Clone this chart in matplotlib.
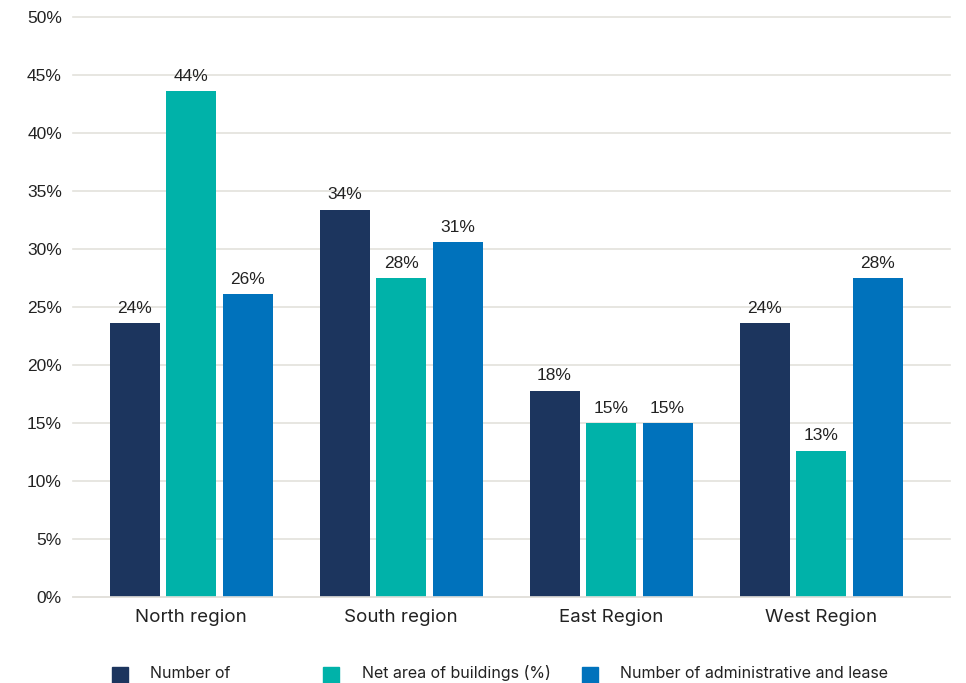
import matplotlib
matplotlib.use("Agg")
import matplotlib.pyplot as plt
from matplotlib.patches import Rectangle
import numpy as np

categories = ["North region", "South region", "East Region", "West Region"]
series_names = ["Number of", "Net area of buildings (%)", "Number of administrative and lease"]
number_of = [23.6, 33.4, 17.8, 23.6]
net_area = [43.6, 27.5, 15.0, 12.6]
admin_lease = [26.1, 30.6, 15.0, 27.5]
labels_1 = ["24%", "34%", "18%", "24%"]
labels_2 = ["44%", "28%", "15%", "13%"]
labels_3 = ["26%", "31%", "15%", "28%"]
yticks = [0, 5, 10, 15, 20, 25, 30, 35, 40, 45, 50]

colors = ["#1C355E", "#00B2A9", "#0072BC"]
plt.rcParams['font.family'] = ['Inter', 'DejaVu Sans']
num_font = ['Liberation Sans', 'DejaVu Sans']

W, H = 966, 683
fig = plt.figure(figsize=(W / 100, H / 100), dpi=100)
ax = fig.add_axes([73 / W, 1 - 597 / H, (950 - 73) / W, (597 - 17) / H])

x = np.arange(len(categories))
width = 0.238
step = 0.269
series = [number_of, net_area, admin_lease]
labels = [labels_1, labels_2, labels_3]
for i, (vals, lab, col) in enumerate(zip(series, labels, colors)):
    pos = x + (i - 1) * step
    bars = ax.bar(pos, vals, width=width, color=col, zorder=3)
    for b, t in zip(bars, lab):
        ax.annotate(t, (b.get_x() + b.get_width() / 2, b.get_height()),
                    xytext=(0, 7.5), textcoords="offset points",
                    ha="center", va="baseline", fontsize=12.5, color="#222222",
                    family=num_font)

ax.set_xlim(-0.562, 3.614)
ax.set_ylim(0, 50)
ax.set_yticks(yticks)
ax.set_yticklabels([f"{v}%" for v in yticks], fontsize=12.5, color="#222222",
                   family=num_font)
ax.set_xticks(x)
ax.set_xticklabels(categories, fontsize=13.5, color="#222222")
ax.tick_params(axis="y", length=0, pad=8)
ax.tick_params(axis="x", length=0, pad=9)
ax.grid(axis="y", color="#E3E1DC", linewidth=1.2, zorder=0)
for gl in ax.get_ygridlines():
    gl.set_clip_on(False)
for s in ["top", "right", "left"]:
    ax.spines[s].set_visible(False)
ax.spines["bottom"].set_color("#E3E1DC")
ax.spines["bottom"].set_linewidth(1.2)
ax.spines["bottom"].set_zorder(4)

# legend
leg_sq = [112, 323, 582]
leg_tx = [150, 362, 620]
for sx, tx, col, name in zip(leg_sq, leg_tx, colors, series_names):
    fig.add_artist(Rectangle((sx / W, 1 - 683 / H), 16 / W, 16 / H,
                             transform=fig.transFigure, color=col))
    fig.text(tx / W, 1 - 673 / H, name, fontsize=11.5, color="#222222",
             ha="left", va="center")

fig.savefig("out.png", dpi=100)
